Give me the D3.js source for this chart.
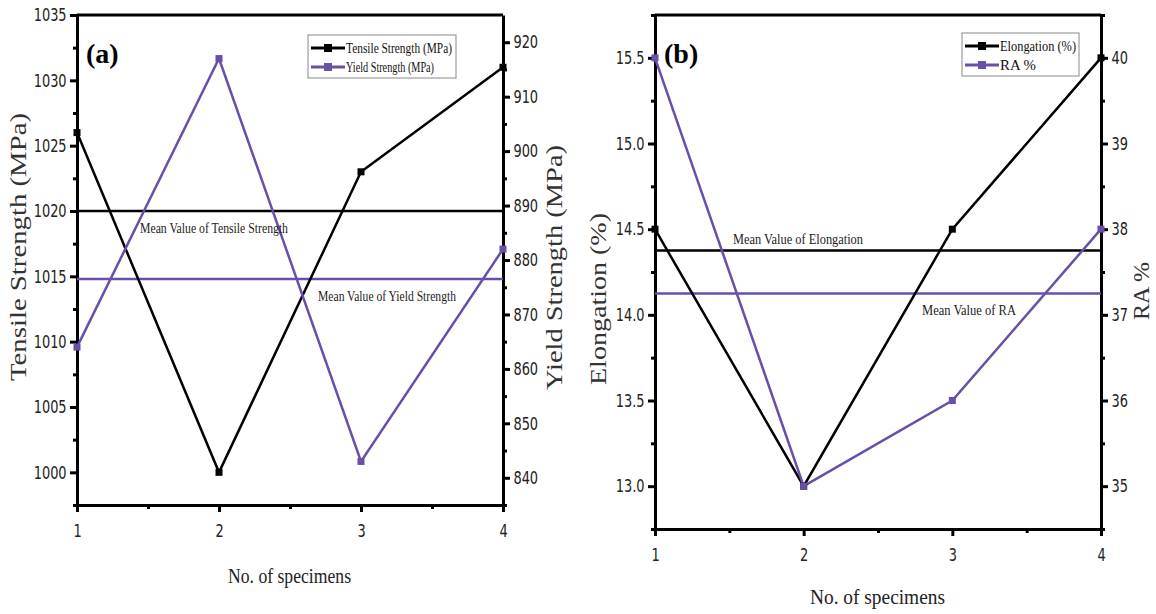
<!DOCTYPE html>
<html>
<head>
<meta charset="utf-8">
<script src="https://cdnjs.cloudflare.com/ajax/libs/d3/7.8.5/d3.min.js"></script>
<style>
  body { margin: 0; background: #fff; }
  svg { display: block; }
  .tick text { font-family: "Liberation Sans Narrow", "Arial Narrow", "DejaVu Sans Condensed", sans-serif; font-size: 18px; fill: #222; }
  .serif { font-family: "Liberation Serif", "Times New Roman", serif; }
</style>
</head>
<body>
<div id="chart"></div>
<script>
// specimens
var specimens = [1, 2, 3, 4];

// panel (a)
var tensileStrength = [1026, 1000, 1023, 1031];
var yieldStrength = [864, 917, 843, 882];
var tensileTicks = [1000, 1005, 1010, 1015, 1020, 1025, 1030, 1035];
var yieldTicks = [840, 850, 860, 870, 880, 890, 900, 910, 920];

// panel (b)
var elongation = [14.5, 13.0, 14.5, 15.5];
var reductionArea = [40, 35, 36, 38];
var elongationTicks = [13.0, 13.5, 14.0, 14.5, 15.0, 15.5];
var raTicks = [35, 36, 37, 38, 39, 40];

var purple = "#6a4fa8";
var black = "#000";
var AX = 3;

var svg = d3.select("#chart")
    .append("svg")
    .attr("width", 1156)
    .attr("height", 614);

// helper: serif text squeezed to a given length
function serifText(sel, txt, size, len) {
    var t = sel.append("text").attr("class", "serif")
        .style("font-size", size + "px")
        .text(txt);
    if (len) t.attr("textLength", len).attr("lengthAdjust", "spacingAndGlyphs");
    return t;
}

function drawPanel(cfg) {
    var g = svg.append("g");

    var x = d3.scaleLinear().domain([1, 4]).range([cfg.x0, cfg.x1]);
    var yL = d3.scaleLinear().domain(cfg.leftDomain).range([cfg.y1, cfg.y0]);
    var yR = d3.scaleLinear().domain(cfg.rightDomain).range([cfg.y1, cfg.y0]);

    // minor ticks (no labels)
    g.append("g")
        .attr("transform", "translate(" + cfg.x0 + ",0)")
        .call(d3.axisLeft(yL).tickValues(cfg.leftMinor).tickSize(4).tickFormat(""))
        .call(function (a) { a.select(".domain").remove(); })
        .selectAll("line").attr("stroke-width", AX);
    g.append("g")
        .attr("transform", "translate(" + cfg.x1 + ",0)")
        .call(d3.axisRight(yR).tickValues(cfg.rightMinor).tickSize(4).tickFormat(""))
        .call(function (a) { a.select(".domain").remove(); })
        .selectAll("line").attr("stroke-width", AX);
    g.append("g")
        .attr("transform", "translate(0," + cfg.y1 + ")")
        .call(d3.axisBottom(x).tickValues([1.5, 2.5, 3.5]).tickSize(4).tickFormat(""))
        .call(function (a) { a.select(".domain").remove(); })
        .selectAll("line").attr("stroke-width", AX);

    // major axes
    var left = g.append("g")
        .attr("transform", "translate(" + cfg.x0 + ",0)")
        .call(d3.axisLeft(yL).tickValues(cfg.leftTicks).tickSize(7).tickSizeOuter(0).tickFormat(cfg.leftFormat));
    var right = g.append("g")
        .attr("transform", "translate(" + cfg.x1 + ",0)")
        .call(d3.axisRight(yR).tickValues(cfg.rightTicks).tickSize(7).tickSizeOuter(0).tickFormat(d3.format("d")));
    var bottom = g.append("g")
        .attr("transform", "translate(0," + cfg.y1 + ")")
        .call(d3.axisBottom(x).tickValues(specimens).tickSize(7).tickSizeOuter(0).tickFormat(d3.format("d")));
    [left, right, bottom].forEach(function (a) {
        a.select(".domain").attr("stroke-width", AX);
        a.selectAll(".tick line").attr("stroke-width", AX);
        // narrow sans look of the original tick labels
        a.selectAll(".tick text").attr("transform", "scale(0.8,1)");
    });
    left.selectAll(".tick text").attr("x", -13);
    right.selectAll(".tick text").attr("x", 13);
    bottom.selectAll(".tick text").attr("dy", "1.2em");

    // top border
    g.append("line")
        .attr("x1", cfg.x0).attr("x2", cfg.x1)
        .attr("y1", cfg.y0).attr("y2", cfg.y0)
        .attr("stroke", black).attr("stroke-width", AX);

    // mean lines
    var meanL = d3.mean(cfg.leftData);
    var meanR = d3.mean(cfg.rightData);
    g.append("line")
        .attr("x1", cfg.x0).attr("x2", cfg.x1)
        .attr("y1", yL(meanL)).attr("y2", yL(meanL))
        .attr("stroke", black).attr("stroke-width", 2.5);
    g.append("line")
        .attr("x1", cfg.x0).attr("x2", cfg.x1)
        .attr("y1", yR(meanR)).attr("y2", yR(meanR))
        .attr("stroke", purple).attr("stroke-width", 2.5);

    // series lines
    var lineL = d3.line().x(function (d, i) { return x(specimens[i]); }).y(function (d) { return yL(d); });
    var lineR = d3.line().x(function (d, i) { return x(specimens[i]); }).y(function (d) { return yR(d); });
    g.append("path").datum(cfg.leftData)
        .attr("d", lineL).attr("fill", "none")
        .attr("stroke", black).attr("stroke-width", 2.5);
    g.append("path").datum(cfg.rightData)
        .attr("d", lineR).attr("fill", "none")
        .attr("stroke", purple).attr("stroke-width", 2.5);

    // markers
    g.selectAll(".mL").data(cfg.leftData).enter().append("rect")
        .attr("x", function (d, i) { return x(specimens[i]) - 3.5; })
        .attr("y", function (d) { return yL(d) - 3.5; })
        .attr("width", 7).attr("height", 7).attr("fill", black);
    g.selectAll(".mR").data(cfg.rightData).enter().append("rect")
        .attr("x", function (d, i) { return x(specimens[i]) - 3.5; })
        .attr("y", function (d) { return yR(d) - 3.5; })
        .attr("width", 7).attr("height", 7).attr("fill", purple);

    // mean labels
    serifText(g, cfg.meanTextL, 14, cfg.meanLabelL[2])
        .attr("x", cfg.meanLabelL[0]).attr("y", yL(meanL) + cfg.meanLabelL[1])
        .attr("fill", "#222");
    serifText(g, cfg.meanTextR, 14, cfg.meanLabelR[2])
        .attr("x", cfg.meanLabelR[0]).attr("y", yR(meanR) + cfg.meanLabelR[1])
        .attr("fill", "#222");

    // panel letter
    g.append("text").attr("class", "serif")
        .attr("x", cfg.x0 + 9).attr("y", cfg.y0 + 48)
        .style("font-size", "28px").style("font-weight", "bold")
        .text(cfg.letter);

    // axis titles (rotated, reading bottom to top)
    serifText(g, cfg.leftTitle, 24, cfg.leftTitleLen)
        .attr("transform", "rotate(-90)")
        .attr("x", -(cfg.leftTitleY + cfg.leftTitleLen)).attr("y", cfg.leftTitleX)
        .attr("fill", "#333");
    serifText(g, cfg.rightTitle, 24, cfg.rightTitleLen)
        .attr("transform", "rotate(-90)")
        .attr("x", -(cfg.rightTitleY + cfg.rightTitleLen)).attr("y", cfg.rightTitleX)
        .attr("fill", "#333");
    serifText(g, "No. of specimens", 20, cfg.xTitle[2])
        .attr("x", cfg.xTitle[0]).attr("y", cfg.xTitle[1])
        .attr("fill", "#222");

    // legend
    var lg = g.append("g").attr("transform", "translate(" + cfg.legend[0] + "," + cfg.legend[1] + ")");
    lg.append("rect")
        .attr("width", cfg.legend[2]).attr("height", 43)
        .attr("fill", "#fff").attr("stroke", "#888").attr("stroke-width", 1);
    [[cfg.legendL, black, cfg.legend[3]], [cfg.legendR, purple, cfg.legend[4]]].forEach(function (item, i) {
        var yy = 13 + i * 19;
        lg.append("line").attr("x1", 3).attr("x2", 37).attr("y1", yy).attr("y2", yy)
            .attr("stroke", item[1]).attr("stroke-width", 3);
        lg.append("rect").attr("x", 16).attr("y", yy - 4).attr("width", 8).attr("height", 8)
            .attr("fill", item[1]);
        serifText(lg, item[0], 14, item[2])
            .attr("x", 38).attr("y", yy + 5)
            .attr("fill", "#111");
    });
}

drawPanel({
    x0: 77, x1: 503, y0: 15, y1: 505,
    leftDomain: [997.5, 1035], rightDomain: [835, 925],
    leftTicks: tensileTicks, rightTicks: yieldTicks,
    leftMinor: [997.5, 1002.5, 1007.5, 1012.5, 1017.5, 1022.5, 1027.5, 1032.5],
    rightMinor: [835, 845, 855, 865, 875, 885, 895, 905, 915],
    leftFormat: d3.format("d"),
    leftData: tensileStrength, rightData: yieldStrength,
    meanTextL: "Mean Value of Tensile Strength", meanLabelL: [140, 22, 148],
    meanTextR: "Mean Value of Yield Strength", meanLabelR: [318, 22, 138],
    letter: "(a)",
    leftTitle: "Tensile Strength (MPa)", leftTitleX: 26, leftTitleY: 113, leftTitleLen: 268,
    rightTitle: "Yield Strength (MPa)", rightTitleX: 562, rightTitleY: 145, rightTitleLen: 245,
    xTitle: [228, 583, 123],
    legend: [308, 35, 148, 106, 88], legendL: "Tensile Strength (MPa)", legendR: "Yield Strength (MPa)"
});

drawPanel({
    x0: 655, x1: 1101, y0: 15, y1: 529,
    leftDomain: [12.75, 15.75], rightDomain: [34.5, 40.5],
    leftTicks: elongationTicks, rightTicks: raTicks,
    leftMinor: [12.75, 13.25, 13.75, 14.25, 14.75, 15.25, 15.75],
    rightMinor: [34.5, 35.5, 36.5, 37.5, 38.5, 39.5, 40.5],
    leftFormat: d3.format(".1f"),
    leftData: elongation, rightData: reductionArea,
    meanTextL: "Mean Value of Elongation", meanLabelL: [733, -7, 130],
    meanTextR: "Mean Value of RA", meanLabelR: [922, 22, 94],
    letter: "(b)",
    leftTitle: "Elongation (%)", leftTitleX: 606, leftTitleY: 213, leftTitleLen: 172,
    rightTitle: "RA %", rightTitleX: 1149, rightTitleY: 262, rightTitleLen: 58,
    xTitle: [810, 604, 135],
    legend: [962, 33, 117, 76, 36], legendL: "Elongation (%)", legendR: "RA %"
});
</script>
</body>
</html>
